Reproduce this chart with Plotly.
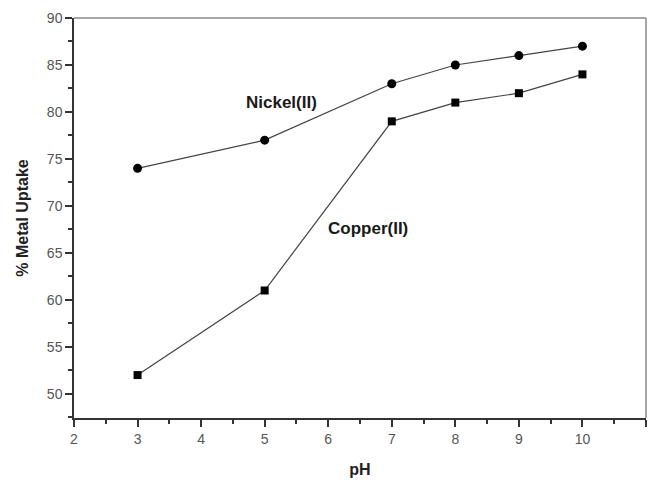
import plotly.graph_objects as go

ph = [3, 5, 7, 8, 9, 10]
nickel = [74, 77, 83, 85, 86, 87]
copper = [52, 61, 79, 81, 82, 84]
x_ticks = [2, 3, 4, 5, 6, 7, 8, 9, 10, 11]
y_ticks = [50, 55, 60, 65, 70, 75, 80, 85, 90]

FONT = "Arial, Liberation Sans, sans-serif"

fig = go.Figure()
fig.add_trace(go.Scatter(x=ph, y=nickel, mode="lines+markers", name="Nickel(II)",
                         line=dict(color="#444444", width=1.2),
                         marker=dict(symbol="circle", size=9, color="black")))
fig.add_trace(go.Scatter(x=ph, y=copper, mode="lines+markers", name="Copper(II)",
                         line=dict(color="#444444", width=1.2),
                         marker=dict(symbol="square", size=8, color="black")))

fig.add_annotation(x=5.27, y=81.0, text="<b>Nickel(II)</b>", showarrow=False,
                   font=dict(family=FONT, size=17, color="#1a1a1a"))
fig.add_annotation(x=6.63, y=67.6, text="<b>Copper(II)</b>", showarrow=False,
                   font=dict(family=FONT, size=17, color="#1a1a1a"))

fig.update_layout(
    width=650, height=480,
    margin=dict(l=74, r=4, t=17.5, b=58.3),
    paper_bgcolor="white", plot_bgcolor="white",
    showlegend=False,
    font=dict(family=FONT, size=14, color="#555"),
    xaxis=dict(range=[2, 11], tickvals=x_ticks, ticks="outside", ticklen=7, tickwidth=1.5,
               tickcolor="#333", showgrid=False, zeroline=False,
               showline=True, linecolor="#333", linewidth=1.5,
               minor=dict(ticks="outside", dtick=0.5, ticklen=4, tickcolor="#333", tickwidth=1.5),
               title=dict(text="<b>pH</b>", font=dict(family=FONT, size=16, color="#222"), standoff=18),
               tickfont=dict(family=FONT, size=14, color="#555")),
    yaxis=dict(range=[47.43, 90], tickvals=y_ticks, ticks="outside", ticklen=7, tickwidth=1.5,
               tickcolor="#333", showgrid=False, zeroline=False,
               showline=True, linecolor="#333", linewidth=1.5,
               minor=dict(ticks="outside", dtick=2.5, ticklen=4, tickcolor="#333", tickwidth=1.5),
               title=dict(text="<b>% Metal Uptake</b>", font=dict(family=FONT, size=16, color="#222"), standoff=14),
               tickfont=dict(family=FONT, size=14, color="#555")),
)
# top and right frame lines
fig.add_shape(type="line", xref="paper", yref="paper", x0=0, x1=1, y0=1, y1=1,
              line=dict(color="#888", width=1.5))
fig.add_shape(type="line", xref="paper", yref="paper", x0=1, x1=1, y0=0, y1=1,
              line=dict(color="#888", width=1.5))

fig.write_html("out.html", config={"displayModeBar": False},
               post_script="document.body.style.margin='0';")
